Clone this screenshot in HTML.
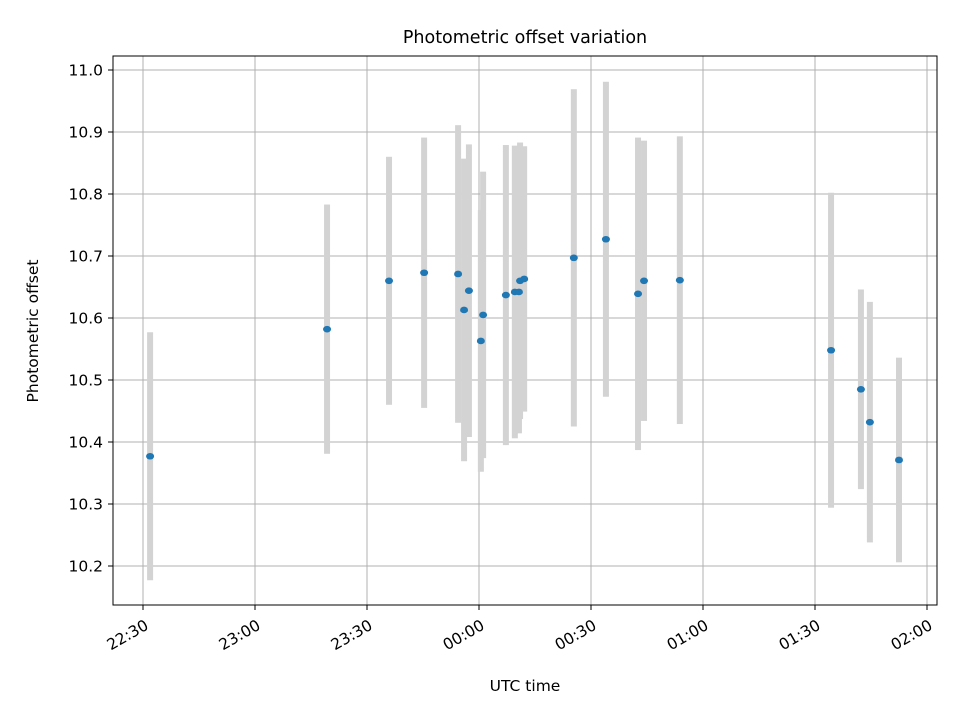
<!DOCTYPE html>
<html><head><meta charset="utf-8"><style>
body{margin:0;background:#fff}
svg text{font-family:"DejaVu Sans","Liberation Sans",sans-serif;fill:#000}
</style></head><body>
<svg id="c" width="960" height="720" xmlns="http://www.w3.org/2000/svg">
<rect width="960" height="720" fill="#fff"/>
<text x="525" y="43" font-size="17.5" text-anchor="middle">Photometric offset variation</text>
<text x="525" y="691" font-size="15.5" text-anchor="middle">UTC time</text>
<text transform="translate(38,331) rotate(-90)" font-size="15.5" text-anchor="middle">Photometric offset</text>
<g id="grid"></g><g id="bars"></g><g id="pts"></g><g id="ticks"></g>
<rect x="113" y="56" width="824" height="549" fill="none" stroke="#000" stroke-width="1"/>
</svg>
<script>
// minutes after 22:30 UTC
const times=[1.9,49.3,65.9,75.3,84.4,86.0,87.3,90.5,91.1,97.2,99.6,100.7,101.0,102.1,115.4,124.0,132.6,134.2,143.8,184.3,192.3,194.7,202.5];
const values=[10.377,10.582,10.660,10.673,10.671,10.613,10.644,10.563,10.605,10.637,10.642,10.642,10.660,10.663,10.697,10.727,10.639,10.660,10.661,10.548,10.485,10.432,10.371];
const errors=[0.200,0.201,0.200,0.218,0.240,0.244,0.236,0.211,0.231,0.242,0.236,0.228,0.223,0.214,0.272,0.254,0.252,0.226,0.232,0.254,0.161,0.194,0.165];
const yTicks=[10.2,10.3,10.4,10.5,10.6,10.7,10.8,10.9,11.0];
const xTickMin=[0,30,60,90,120,150,180,210];
const xTickLabels=["22:30","23:00","23:30","00:00","00:30","01:00","01:30","02:00"];
const NS="http://www.w3.org/2000/svg";
const X=m=>143+m*112/30;
const Y=v=>70+(11-v)*620;
function mk(p,t,a){const e=document.createElementNS(NS,t);for(const k in a)e.setAttribute(k,a[k]);document.getElementById(p).appendChild(e);return e;}
yTicks.forEach((v,i)=>{
 const g=mk('grid','line',{x1:113,x2:937,y1:Y(v),y2:Y(v),stroke:'#b0b0b0','stroke-width':1});
 
 const t=mk('ticks','line',{x1:108,x2:113,y1:Y(v),y2:Y(v),stroke:'#000'});
 
 const l=mk('ticks','text',{x:103,y:Y(v)+5.5,'font-size':15.5,'text-anchor':'end'});
 
 l.textContent=v.toFixed(1);
});
xTickMin.forEach((m,i)=>{
 const g=mk('grid','line',{x1:X(m),x2:X(m),y1:56,y2:605,stroke:'#b0b0b0','stroke-width':1});
 
 const t=mk('ticks','line',{x1:X(m),x2:X(m),y1:605,y2:610,stroke:'#000'});
 
 const l=mk('ticks','text',{transform:`translate(${X(m)+4},${624}) rotate(-30)`,'font-size':15.5,'text-anchor':'end','dominant-baseline':'central'});
 
 l.textContent=xTickLabels[i];
});
times.forEach((m,i)=>{
 const b=mk('bars','rect',{x:X(m)-3,y:Y(values[i]+errors[i]),width:6,height:errors[i]*2*620,fill:'#d3d3d3'});
 
});
times.forEach((m,i)=>{
 const p=mk('pts','ellipse',{cx:X(m),cy:Y(values[i]),rx:4,ry:3.3,fill:'#1f77b4'});
 
});
</script>
</body></html>
